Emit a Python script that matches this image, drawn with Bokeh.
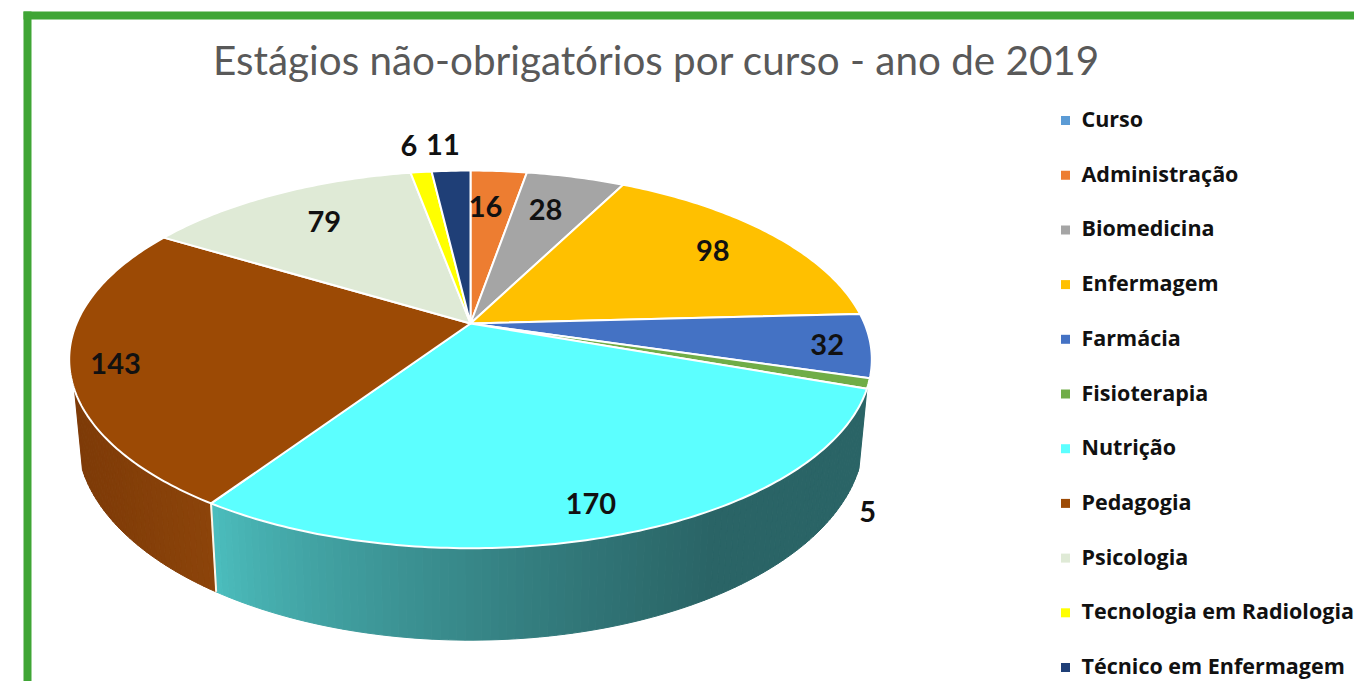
import math
from bokeh.plotting import figure
from bokeh.models import Range1d
from bokeh.core.properties import value
from bokeh.embed import file_html
from bokeh.resources import INLINE

# ---- data ----
TITLE = "Estágios não-obrigatórios por curso - ano de 2019"
courses = ["Administração", "Biomedicina", "Enfermagem", "Farmácia", "Fisioterapia",
           "Nutrição", "Pedagogia", "Psicologia", "Tecnologia em Radiologia", "Técnico em Enfermagem"]
counts = [16, 28, 98, 32, 5, 170, 143, 79, 6, 11]
legend_names = ["Curso"] + courses

# ---- styles ----
colors = ["#ED7D31", "#A5A5A5", "#FFC000", "#4472C4", "#70AD47",
          "#5CFFFF", "#9C4A05", "#DFEAD6", "#FFFF00", "#1F3F77"]
legend_colors = ["#5B9BD5"] + colors
label_shift = [-1.5, -1.4, 0.0, 0.5, 27.6, 1.2, -1.1, 1.2, -0.5, -0.7]   # degrees
label_radius = [0.733, 0.74, 0.794, 0.893, 1.206, 0.871, 0.890, 0.755, 1.216, 1.213]

# ---- projection of the tilted pie (reference pixel space) ----
CX, CY, RX, RY, K = 470.0, 323.0, 394.0, 182.0, 0.19
DEPTH, SHRINK = 74.5, 0.98
VIS_END = 250.0


def rim(theta, r=1.0):
    t = math.radians(theta)
    X, Y = r * math.sin(t), r * math.cos(t)
    f = 1 + K * Y
    return CX + RX * X / f, CY - RY * Y / f


def lower(theta):
    t = math.radians(theta)
    X, Y = math.sin(t), math.cos(t)
    f = 1 + K * Y
    return CX + SHRINK * RX * X / f, CY - RY * Y / f + DEPTH / f


def mix(a, b, s):
    s = max(0.0, min(1.0, s))
    return "#%02x%02x%02x" % tuple(round(a[i] + (b[i] - a[i]) * s) for i in range(3))


p = figure(width=1354, height=681, x_range=Range1d(0, 1354), y_range=Range1d(681, 0),
           x_axis_location=None, y_axis_location=None, toolbar_location=None,
           output_backend="svg", min_border=0, outline_line_color=None,
           background_fill_color="white", border_fill_color="white")
p.grid.visible = False

# green frame
p.quad(left=[23, 23], right=[31, 1354], top=[11, 11], bottom=[681, 19],
       fill_color="#3FA535", line_color=None)

total = sum(counts)
edges = [0.0]
for c in counts:
    edges.append(edges[-1] + c / total * 360.0)

# side walls
side_stops = {
    5: ((76, 190, 190), (42, 100, 102)),
    6: ((125, 58, 7), (140, 68, 10)),
}
for idx, (c0, c1) in side_stops.items():
    a0, a1 = edges[idx], min(edges[idx + 1], VIS_END)
    n = max(2, int(a1 - a0))
    xs, ys, cs = [], [], []
    for j in range(n):
        ta, tb = a0 + (a1 - a0) * j / n, a0 + (a1 - a0) * (j + 1) / n
        pa, pb, qa, qb = rim(ta), rim(tb), lower(ta), lower(tb)
        xs.append([pa[0], pb[0], qb[0], qa[0]])
        ys.append([pa[1], pb[1], qb[1], qa[1]])
        if idx == 5:
            s = min(1.0, max(0.0, (pa[0] - 215.0) / 500.0)) ** 0.75
            cs.append(mix(c0, c1, s))
        else:
            cs.append(mix(c0, c1, (pa[0] - 70.0) / 145.0))
    p.patches(xs, ys, fill_color=cs, line_color=cs, line_width=1)

# white divider between the two visible walls
b = edges[6]
p.line([rim(b)[0], lower(b)[0]], [rim(b)[1], lower(b)[1]], line_color="#FFF6E8", line_width=2)

# top surface
xs, ys = [], []
for i in range(len(counts)):
    a0, a1 = edges[i], edges[i + 1]
    n = max(2, int((a1 - a0) / 0.75))
    pts = [rim(a0 + (a1 - a0) * j / n) for j in range(n + 1)]
    xs.append([CX] + [q[0] for q in pts])
    ys.append([CY] + [q[1] for q in pts])
p.patches(xs, ys, fill_color=colors, line_color="white", line_width=2, line_join="round")

# value labels
lx, ly, lt = [], [], []
for i, c in enumerate(counts):
    q = rim((edges[i] + edges[i + 1]) / 2 + label_shift[i], label_radius[i])
    lx.append(q[0]); ly.append(q[1]); lt.append(str(c))
p.text(lx, ly, text=lt, text_font=value("Lato"), text_font_style="bold",
       text_font_size="29px", text_color="#111111", text_align="center", text_baseline="middle")

# title
p.text([656], [59], text=[TITLE], text_font=value("Lato"), text_font_size="40.4px",
       text_color="#595959", text_align="center", text_baseline="middle")

# legend
rows = [118 + 54.7 * i for i in range(len(legend_names))]
p.scatter([1065] * len(rows), [r + 2 for r in rows], marker="square", size=9,
          fill_color=legend_colors, line_color=None)
p.text([1081] * len(rows), rows, text=legend_names, text_font=value("Open Sans"),
       text_font_style="bold", text_font_size="21.5px", text_color="#111111",
       text_align="left", text_baseline="middle")

open("out.html", "w").write(file_html(p, INLINE))
